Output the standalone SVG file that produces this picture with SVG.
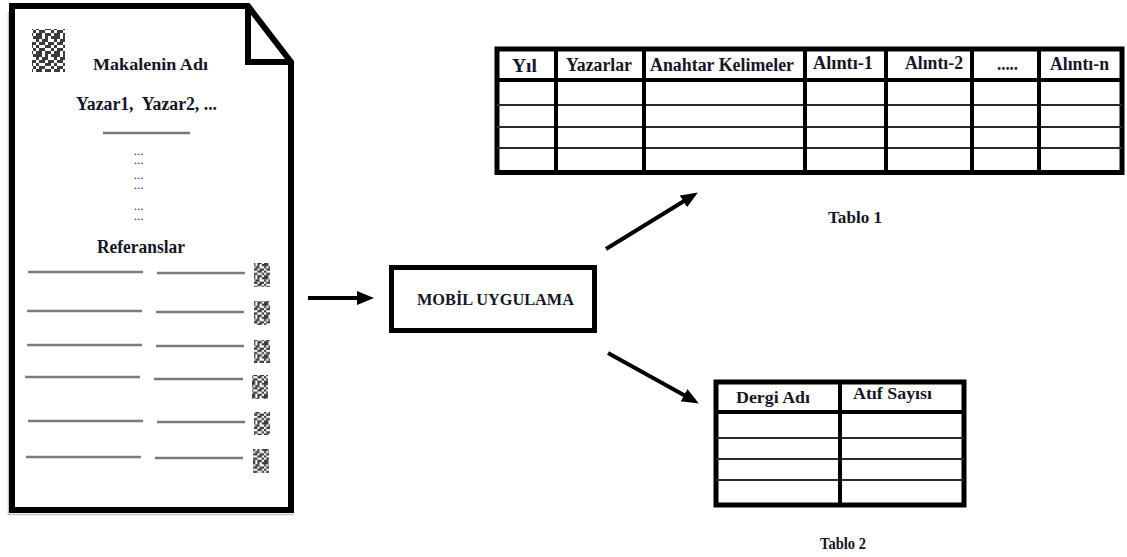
<svg xmlns="http://www.w3.org/2000/svg" xmlns:xlink="http://www.w3.org/1999/xlink" width="1127" height="557" viewBox="0 0 1127 557">
  <style>
    .lbl { font-family: "Liberation Serif", "Times New Roman", serif; font-weight: bold; fill: #15152a; }
    .frame { fill: none; stroke: #000; stroke-width: 5; }
    .col { stroke: #000; stroke-width: 4; }
    .row { stroke: #2a2a2a; stroke-width: 2; }
    .rule { stroke: #7a7a7a; stroke-width: 2.5; }
    .dots { font-family: "Liberation Serif", serif; font-weight: bold; font-size: 9px; letter-spacing: 1px; fill: #333; }
    .arrow { stroke: #000; stroke-width: 4; fill: none; marker-end: url(#head); }
    .qr { filter: url(#soft); }
  </style>
  <defs>
    <marker id="head" markerUnits="userSpaceOnUse" markerWidth="17" markerHeight="15" refX="8" refY="7" orient="auto">
      <path d="M0,0 L17,7 L0,14 Z" fill="#000"/>
    </marker>
    <!-- QR-like module grid, one unit per module -->
    <pattern id="qr" patternUnits="userSpaceOnUse" width="6" height="6" patternTransform="scale(3)">
      <g fill="#3a3a3a">
        <rect x="0" y="0" width="2" height="1"/><rect x="3" y="0" width="1" height="1"/><rect x="5" y="0" width="1" height="1"/>
        <rect x="0" y="1" width="1" height="1"/><rect x="2" y="1" width="2" height="1"/>
        <rect x="1" y="2" width="2" height="1"/><rect x="4" y="2" width="2" height="1"/>
        <rect x="0" y="3" width="1" height="1"/><rect x="3" y="3" width="2" height="1"/>
        <rect x="1" y="4" width="2" height="1"/><rect x="5" y="4" width="1" height="1"/>
        <rect x="0" y="5" width="2" height="1"/><rect x="3" y="5" width="2" height="1"/>
      </g>
    </pattern>
    <pattern id="qrS" href="#qr" xlink:href="#qr" patternTransform="scale(2.2)"/>
    <filter id="soft" x="-10%" y="-10%" width="120%" height="120%">
      <feGaussianBlur stdDeviation="0.6"/>
    </filter>
  </defs>

  <rect width="1127" height="557" fill="#fff"/>

  <!-- article page with folded corner -->
  <g id="article">
    <path d="M8.5,12 V514.5 H294" fill="none" stroke="#c4c4c4" stroke-width="1.5"/>
    <path d="M12,6 H248 L291,62 V510 H12 Z" fill="#fff" stroke="#000" stroke-width="6" stroke-linejoin="miter"/>
    <path d="M248,6 V62 H291" fill="none" stroke="#000" stroke-width="6"/>
    <rect class="qr" x="32" y="29" width="33" height="43" fill="url(#qr)"/>
    <text class="lbl" x="93" y="70" font-size="17" textLength="115" lengthAdjust="spacingAndGlyphs">Makalenin Adı</text>
    <text class="lbl" x="76" y="110" font-size="18" textLength="141" lengthAdjust="spacingAndGlyphs" xml:space="preserve">Yazar1,  Yazar2, ...</text>
    <line class="rule" x1="103" y1="133" x2="190" y2="133"/>
    <g class="dots" text-anchor="middle">
      <text x="139" y="155">...</text>
      <text x="139" y="164">...</text>
      <text x="139" y="179">...</text>
      <text x="139" y="189">...</text>
      <text x="139" y="210">...</text>
      <text x="139" y="220">...</text>
    </g>
    <text class="lbl" x="97" y="253" font-size="18" textLength="88" lengthAdjust="spacingAndGlyphs">Referanslar</text>
    <g id="references">
      <line class="rule" x1="28" y1="272" x2="143" y2="272"/><line class="rule" x1="157" y1="273" x2="245" y2="273"/>
      <line class="rule" x1="27" y1="311" x2="142" y2="311"/><line class="rule" x1="156" y1="312" x2="244" y2="312"/>
      <line class="rule" x1="27" y1="345" x2="142" y2="345"/><line class="rule" x1="156" y1="346" x2="244" y2="346"/>
      <line class="rule" x1="25" y1="377" x2="140" y2="377"/><line class="rule" x1="154" y1="379" x2="243" y2="379"/>
      <line class="rule" x1="28" y1="421" x2="143" y2="421"/><line class="rule" x1="157" y1="422" x2="245" y2="422"/>
      <line class="rule" x1="26" y1="457" x2="141" y2="457"/><line class="rule" x1="155" y1="458" x2="243" y2="458"/>
      <g class="qr">
        <rect x="254" y="263" width="16" height="24" fill="url(#qrS)"/>
        <rect x="254" y="301" width="16" height="24" fill="url(#qrS)"/>
        <rect x="254" y="340" width="16" height="23" fill="url(#qrS)"/>
        <rect x="252" y="375" width="16" height="24" fill="url(#qrS)"/>
        <rect x="254" y="412" width="16" height="23" fill="url(#qrS)"/>
        <rect x="253" y="449" width="16" height="24" fill="url(#qrS)"/>
      </g>
    </g>
  </g>

  <!-- mobile application box -->
  <g id="mobile-app">
    <rect x="391.5" y="267.5" width="203" height="63" class="frame"/>
    <text class="lbl" x="417" y="305" font-size="16.5" textLength="157" lengthAdjust="spacingAndGlyphs">MOBİL UYGULAMA</text>
  </g>

  <!-- table 1: article data -->
  <g id="table1">
    <rect x="497" y="49" width="625" height="123.5" fill="#fff" class="frame"/>
    <line class="row" x1="497" y1="105" x2="1122" y2="105"/>
    <line class="row" x1="497" y1="127" x2="1122" y2="127"/>
    <line class="row" x1="497" y1="148" x2="1122" y2="148"/>
    <line class="col" x1="497" y1="80" x2="1122" y2="80"/>
    <line class="col" x1="556" y1="49" x2="556" y2="172"/>
    <line class="col" x1="644" y1="49" x2="644" y2="172"/>
    <line class="col" x1="805" y1="49" x2="805" y2="172"/>
    <line class="col" x1="886" y1="49" x2="886" y2="172"/>
    <line class="col" x1="972" y1="49" x2="972" y2="172"/>
    <line class="col" x1="1039" y1="49" x2="1039" y2="172"/>
    <text class="lbl" x="512" y="72" font-size="18" textLength="25" lengthAdjust="spacingAndGlyphs">Yıl</text>
    <text class="lbl" x="566" y="71" font-size="18" textLength="66" lengthAdjust="spacingAndGlyphs">Yazarlar</text>
    <text class="lbl" x="650" y="71" font-size="18" textLength="144" lengthAdjust="spacingAndGlyphs">Anahtar Kelimeler</text>
    <text class="lbl" x="813" y="69" font-size="18" textLength="60" lengthAdjust="spacingAndGlyphs">Alıntı-1</text>
    <text class="lbl" x="905" y="69" font-size="18" textLength="58" lengthAdjust="spacingAndGlyphs">Alıntı-2</text>
    <text class="lbl" x="997" y="70" font-size="18" textLength="21" lengthAdjust="spacingAndGlyphs">.....</text>
    <text class="lbl" x="1050" y="70" font-size="18" textLength="59" lengthAdjust="spacingAndGlyphs">Alıntı-n</text>
    <text class="lbl" x="828" y="223" font-size="16" textLength="54" lengthAdjust="spacingAndGlyphs">Tablo 1</text>
  </g>

  <!-- table 2: journal citation counts -->
  <g id="table2">
    <rect x="716" y="382" width="248" height="123" fill="#fff" class="frame"/>
    <line class="row" x1="716" y1="438" x2="964" y2="438"/>
    <line class="row" x1="716" y1="459" x2="964" y2="459"/>
    <line class="row" x1="716" y1="480" x2="964" y2="480"/>
    <line class="col" x1="716" y1="412" x2="964" y2="412"/>
    <line class="col" x1="840" y1="382" x2="840" y2="505"/>
    <text class="lbl" x="736" y="403" font-size="17.5" textLength="74" lengthAdjust="spacingAndGlyphs">Dergi Adı</text>
    <text class="lbl" x="853" y="399" font-size="17.5" textLength="79" lengthAdjust="spacingAndGlyphs">Atıf Sayısı</text>
    <text class="lbl" x="820" y="549" font-size="16" textLength="46" lengthAdjust="spacingAndGlyphs">Tablo 2</text>
  </g>

  <!-- connectors -->
  <g id="connectors">
    <line class="arrow" x1="308" y1="298" x2="365" y2="298"/>
    <line class="arrow" x1="606" y1="249" x2="690.2" y2="197.2"/>
    <line class="arrow" x1="608" y1="353" x2="691" y2="399.1"/>
  </g>
</svg>
